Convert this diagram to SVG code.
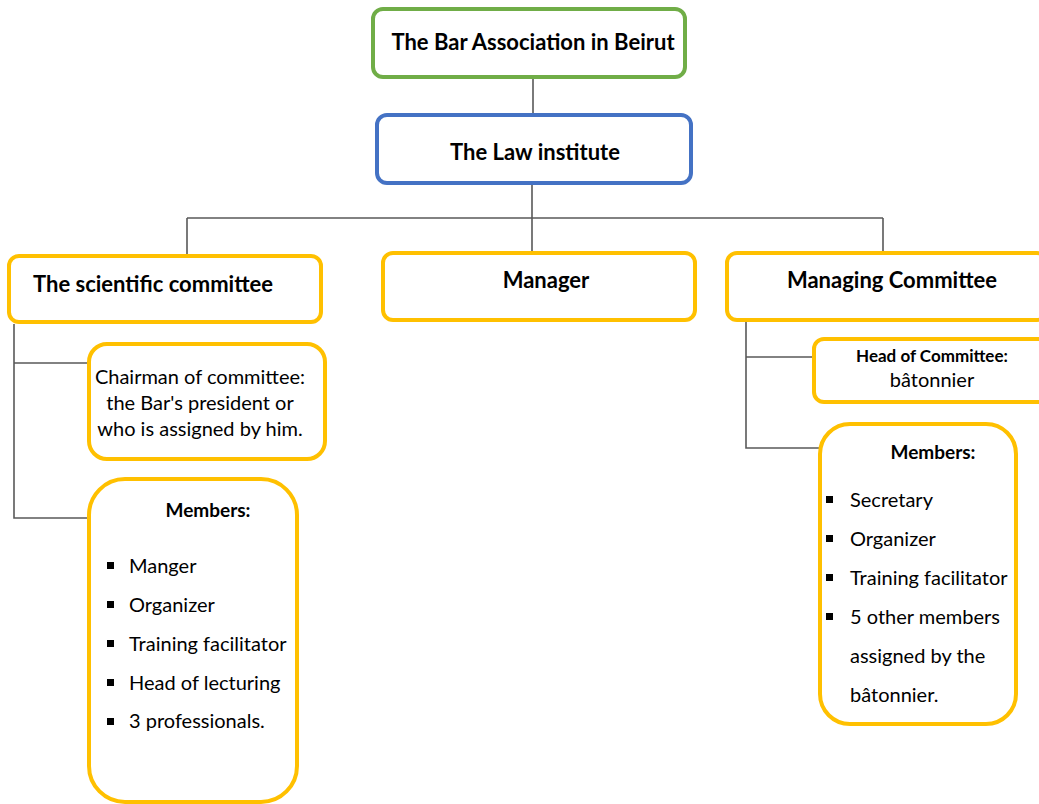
<svg xmlns="http://www.w3.org/2000/svg" width="1039" height="804" viewBox="0 0 1039 804">
  <style>
    .box { fill: #ffffff; stroke-width: 4; }
    .green { stroke: #70AD47; }
    .blue { stroke: #4472C4; }
    .gold { stroke: #FFC000; }
    .link { fill: none; stroke: #595959; stroke-width: 1.6; }
    text { font-family: Lato, "Open Sans", "Liberation Sans", sans-serif; fill: #000000; }
    .title { font-size: 22px; font-weight: bold; }
    .sub { font-size: 19px; font-weight: bold; }
    .small { font-size: 17px; font-weight: bold; }
    .body { font-size: 20px; }
    .mid { text-anchor: middle; }
    .bullet { fill: #000000; }
  </style>
  <rect width="1039" height="804" fill="#ffffff"/>

  <g id="connectors">
    <path class="link" d="M533 78 V114"/>
    <path class="link" d="M532 184 V218 M187 218 H883 M187 218 V254 M532 218 V251 M883 218 V251"/>
    <path class="link" d="M14 324 V518 H88 M14 363 H88"/>
    <path class="link" d="M746 321 V448 H819 M746 357 H813"/>
  </g>

  <g id="bar-association">
    <rect class="box green" x="373" y="9" width="312" height="68" rx="10"/>
    <text class="title mid" x="533" y="50">The Bar Association in Beirut</text>
  </g>

  <g id="law-institute">
    <rect class="box blue" x="377" y="115" width="314" height="68" rx="10"/>
    <text class="title mid" x="535" y="160">The Law institute</text>
  </g>

  <g id="scientific-committee">
    <rect class="box gold" x="9" y="256" width="312" height="66" rx="10"/>
    <text class="title" x="33" y="292">The scientific committee</text>
  </g>

  <g id="manager">
    <rect class="box gold" x="383" y="253" width="312" height="67" rx="10"/>
    <text class="title mid" x="546" y="288">Manager</text>
  </g>

  <g id="managing-committee">
    <rect class="box gold" x="727" y="253" width="320" height="67" rx="10"/>
    <text class="title mid" x="892" y="288">Managing Committee</text>
  </g>

  <g id="chairman">
    <rect class="box gold" x="89" y="344" width="236" height="115" rx="18"/>
    <text class="body mid" x="200" y="384">Chairman of committee:</text>
    <text class="body mid" x="200" y="410">the Bar's president or</text>
    <text class="body mid" x="200" y="436">who is assigned by him.</text>
  </g>

  <g id="scientific-members">
    <rect class="box gold" x="89" y="479" width="208" height="323" rx="36"/>
    <text class="sub mid" x="208" y="517">Members:</text>
    <rect class="bullet" x="107" y="562" width="7" height="7"/>
    <text class="body" x="129" y="573">Manger</text>
    <rect class="bullet" x="107" y="601" width="7" height="7"/>
    <text class="body" x="129" y="612">Organizer</text>
    <rect class="bullet" x="107" y="640" width="7" height="7"/>
    <text class="body" x="129" y="651">Training facilitator</text>
    <rect class="bullet" x="107" y="679" width="7" height="7"/>
    <text class="body" x="129" y="690">Head of lecturing</text>
    <rect class="bullet" x="107" y="718" width="7" height="7"/>
    <text class="body" x="129" y="728">3 professionals.</text>
  </g>

  <g id="head-of-committee">
    <rect class="box gold" x="814" y="339" width="240" height="63" rx="10"/>
    <text class="small mid" x="932" y="362">Head of Committee:</text>
    <text class="body mid" x="932" y="387">bâtonnier</text>
  </g>

  <g id="managing-members">
    <rect class="box gold" x="820" y="424" width="196" height="300" rx="30"/>
    <text class="sub mid" x="933" y="459">Members:</text>
    <rect class="bullet" x="826" y="496" width="7" height="7"/>
    <text class="body" x="850" y="507">Secretary</text>
    <rect class="bullet" x="826" y="535" width="7" height="7"/>
    <text class="body" x="850" y="546">Organizer</text>
    <rect class="bullet" x="826" y="574" width="7" height="7"/>
    <text class="body" x="850" y="585">Training facilitator</text>
    <rect class="bullet" x="826" y="613" width="7" height="7"/>
    <text class="body" x="850" y="624">5 other members</text>
    <text class="body" x="850" y="663">assigned by the</text>
    <text class="body" x="850" y="702">bâtonnier.</text>
  </g>
</svg>
